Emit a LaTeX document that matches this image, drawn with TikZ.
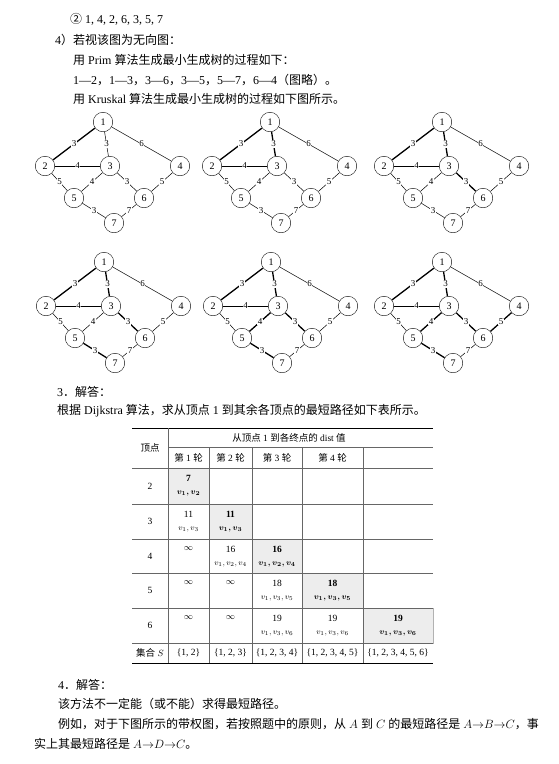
\documentclass[tikz,border=0pt]{standalone}
\usepackage{amsmath}
\usepackage{fontspec}
\setmainfont{Liberation Serif}
\newfontfamily\zh{Noto Sans CJK SC}
\usepackage{tikz}
\usetikzlibrary{calc,positioning}
\tikzset{%
  body text/.style={anchor=base west,inner sep=0pt,font=\fontsize{12}{14}\selectfont},
  vertex/.style={circle,draw,thin,minimum size=19.5pt,inner sep=0pt,
    font=\fontsize{10}{10}\selectfont},
  graph edge/.style={line width=0.5pt},
  tree edge/.style={line width=1.3pt},
  weight/.style={fill=white,inner sep=0.5pt,font=\fontsize{9}{9}\selectfont},
  cell text/.style={inner sep=0pt,font=\fontsize{9.5}{10}\selectfont},
  small text/.style={inner sep=0pt,font=\fontsize{8}{8}\selectfont},
  rule thin/.style={line width=0.5pt,gray!80!black},
  rule thick/.style={line width=1pt},
  shaded cell/.style={fill=gray!14,draw=gray!60,line width=0.4pt}
}
% one step of Kruskal: #1 prefix, #2 x, #3 y, #4 number of tree edges
\newcommand\DrawKruskalStep[4]{%
  \begin{scope}[shift={(#2,#3)}]
    \foreach \n/\px/\py in {1/0/0,2/-58/44,3/7/44,4/77/44,5/-29/76,6/41/76,7/11/101}
      \node[vertex] (#1\n) at (\px,\py) {\n};
    \foreach \a/\b/\w/\k in {1/2/3/1,1/3/3/2,3/6/3/3,5/7/3/4,3/5/4/5,4/6/5/6,
                             1/4/6/9,2/3/4/9,2/5/5/9,6/7/7/9}{
      \ifnum\k>#4\relax
        \draw[graph edge] (#1\a) -- node[weight]{\w} (#1\b);
      \else
        \draw[graph edge,tree edge] (#1\a) -- node[weight]{\w} (#1\b);
      \fi
    }
  \end{scope}
}
% one cell of the table: #1 name, #2 x, #3 y of value, #4 value, #5 path
\newcommand\DistCell[5]{%
  \path (#2,#3) node[cell text] (#1v) {#4}
    ++(0,15.5) node[small text] (#1p) {#5};
}

\begin{document}
\begin{tikzpicture}[x=1pt,y=-1pt]
  \useasboundingbox (0,0) rectangle (559,764);

  % text above the graphs
  \node[body text] (order) at (70,23.5) {{\zh ②}\ 1, 4, 2, 6, 3, 5, 7};
  \node[body text] (undir) at (55,44.5) {4{\zh ）若视该图为无向图：}};
  \node[body text] (prim) at (73,64) {{\zh 用} Prim {\zh 算法生成最小生成树的过程如下：}};
  \node[body text] (primlist) at (73,84) {1—2{\zh ，}1—3{\zh ，}3—6{\zh ，}3—5{\zh ，}5—7{\zh ，}6—4{\zh （图略）。}};
  \node[body text] (kruskal) at (73,103.5) {{\zh 用} Kruskal {\zh 算法生成最小生成树的过程如下图所示。}};

  % Kruskal steps
  \DrawKruskalStep{ka}{103}{122}{1}
  \DrawKruskalStep{kb}{270}{122}{2}
  \DrawKruskalStep{kc}{442}{122}{3}
  \DrawKruskalStep{kd}{104}{262}{4}
  \DrawKruskalStep{ke}{271}{262}{5}
  \DrawKruskalStep{kf}{442}{262}{6}

  \node[body text] (ans3) at (57,396.5) {3{\zh ．解答：}};
  \node[body text] (dijk) at (57,414.5) {{\zh 根据} Dijkstra {\zh 算法，求从顶点} 1 {\zh 到其余各顶点的最短路径如下表所示。}};

  % table: shaded cells
  \fill[shaded cell] (168,468) rectangle (209,504);
  \fill[shaded cell] (209,504) rectangle (252,539);
  \fill[shaded cell] (252,539) rectangle (302,573);
  \fill[shaded cell] (302,573) rectangle (363,608);
  \filldraw[shaded cell] (363,608) rectangle (433,643);

  % table: rules
  \draw[rule thick] (132,428) -- (433,428);
  \draw[rule thin] (168,447) -- (433,447);
  \foreach \yy in {468,504,539,573,608,643}
    \draw[rule thin] (132,\yy) -- (433,\yy);
  \draw[rule thick] (132,663) -- (433,663);
  \draw[rule thin] (168,428) -- (168,663);
  \foreach \xx in {209,252,302,363}
    \draw[rule thin] (\xx,447) -- (\xx,663);

  % table: head
  \node[cell text] (vhead) at (150,448) {\zh 顶点};
  \node[cell text] (dhead) at (289,438)
    {{\zh 从顶点} 1 {\zh 到各终点的} dist {\zh 值}};
  \foreach \col/\xx in {1/188.5,2/230.5,3/277,4/332.5}
    \node[cell text] (round\col) at (\xx,458) {{\zh 第} \col\ {\zh 轮}};

  % table: vertices
  \foreach \row/\yy in {2/486,3/521.5,4/556,5/590.5,6/625.5}
    \node[cell text] (row\row) at (150,\yy) {\row};

  % table: dist values
  \DistCell{a1}{188.5}{478}{\bfseries 7}{$\boldsymbol{v_1, v_2}$}
  \DistCell{b1}{188.5}{514}{11}{$v_1, v_3$}
  \DistCell{b2}{230.5}{514}{\bfseries 11}{$\boldsymbol{v_1, v_3}$}
  \node[cell text] (c1v) at (188.5,549) {$\infty$};
  \DistCell{c2}{230.5}{549}{16}{$v_1, v_2, v_4$}
  \DistCell{c3}{277}{549}{\bfseries 16}{$\boldsymbol{v_1, v_2, v_4}$}
  \node[cell text] (d1v) at (188.5,583) {$\infty$};
  \node[cell text] (d2v) at (230.5,583) {$\infty$};
  \DistCell{d3}{277}{583}{18}{$v_1, v_3, v_5$}
  \DistCell{d4}{332.5}{583}{\bfseries 18}{$\boldsymbol{v_1, v_3, v_5}$}
  \node[cell text] (e1v) at (188.5,618) {$\infty$};
  \node[cell text] (e2v) at (230.5,618) {$\infty$};
  \DistCell{e3}{277}{618}{19}{$v_1, v_3, v_6$}
  \DistCell{e4}{332.5}{618}{19}{$v_1, v_3, v_6$}
  \DistCell{e5}{398}{618}{\bfseries 19}{$\boldsymbol{v_1, v_3, v_6}$}

  % table: set S
  \node[cell text] (setS) at (150,653) {{\zh 集合} $S$};
  \foreach \col/\xx/\members in {1/188.5/{1, 2},2/230.5/{1, 2, 3},3/277/{1, 2, 3, 4},
                        4/332.5/{1, 2, 3, 4, 5},5/398/{1, 2, 3, 4, 5, 6}}
    \node[cell text] (set\col) at (\xx,653) {\{\members\}};

  % text below the table
  \node[body text] (ans4) at (58,689.5) {4{\zh ．解答：}};
  \node[body text] (notalways) at (58,708.5) {\zh 该方法不一定能（或不能）求得最短路径。};
  \node[body text] (example) at (58,728.5) {{\zh 例如，对于下图所示的带权图，若按照题中的原则，从} $A$ {\zh 到} $C$ {\zh 的最短路径是} $A{\to}B{\to}C${\zh ，事}};
  \node[body text] (actual) at (34,748.5) {{\zh 实上其最短路径是} $A{\to}D{\to}C${\zh 。}};
\end{tikzpicture}
\end{document}
